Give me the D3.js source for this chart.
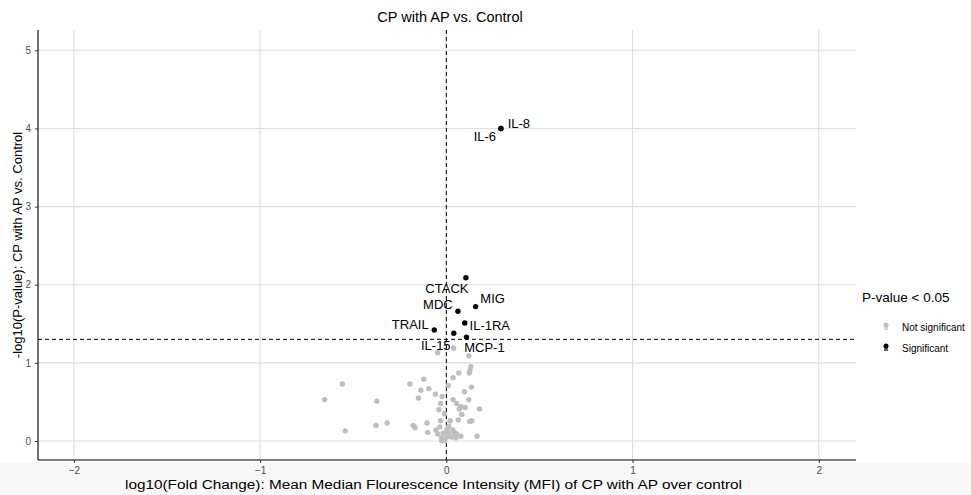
<!DOCTYPE html>
<html><head><meta charset="utf-8">
<script src="https://cdn.jsdelivr.net/npm/d3@7"></script>
<style>body{margin:0;background:#fff;}svg{display:block;font-family:"Liberation Sans",Arial,sans-serif;}</style>
</head><body><svg id="chart" width="971" height="495"></svg>
<script>
// ---- data ----
const title = "CP with AP vs. Control";
const xTicks = [-2, -1, 0, 1, 2];
const yTicks = [0, 1, 2, 3, 4, 5];
const sigNames = ["IL-8","IL-6","CTACK","MIG","MDC","IL-1RA","TRAIL","IL-15","MCP-1"];
const sigX =     [0.293, 0.293, 0.105, 0.157, 0.062, 0.099, -0.065, 0.040, 0.108];
const sigY =     [4.00, 4.00, 2.09, 1.72, 1.66, 1.51, 1.42, 1.38, 1.33];
const nsX = [-0.047,0.039,0.121,0.132,0.126,0.123,0.067,0.036,-0.559,-0.196,-0.121,0.010,0.135,-0.137,-0.094,-0.059,0.097,-0.654,-0.373,-0.150,-0.023,0.036,0.121,-0.031,0.055,-0.040,-0.010,0.069,0.078,0.101,0.178,0.083,0.064,0.021,-0.031,0.126,0.137,-0.104,-0.378,-0.318,-0.178,-0.168,-0.543,-0.100,-0.035,0.003,0.034,0.042,0.055,0.078,0.165,-0.017,-0.026,-0.008,0.028,0.013,-0.046,0.003,-0.024,0.051,-0.056,0.013];
const nsY = [1.13,1.19,1.09,0.95,0.90,0.87,0.87,0.81,0.73,0.73,0.79,0.71,0.69,0.65,0.67,0.60,0.63,0.53,0.51,0.55,0.57,0.53,0.53,0.48,0.48,0.40,0.35,0.41,0.44,0.43,0.41,0.34,0.27,0.26,0.26,0.25,0.26,0.23,0.20,0.23,0.20,0.17,0.13,0.11,0.18,0.15,0.14,0.11,0.09,0.06,0.06,0.10,0.04,0.01,0.05,0.10,0.09,0.05,0.00,0.04,0.14,0.19];
const pThreshold = -Math.log10(0.05);
const legendTitle = "P-value < 0.05";
const legendLabels = ["Not significant", "Significant"];
const xTitle = "log10(Fold Change): Mean Median Flourescence Intensity (MFI) of CP with AP over control";
const yTitle = "-log10(P-value): CP with AP vs. Control";

// ---- layout (label offsets in px, from ggrepel placement) ----
const labelOffset = {"IL-8":[18,-5],"IL-6":[-16,8],"CTACK":[-19,11],"MIG":[17,-8],"MDC":[-20,-7],"IL-1RA":[25,2],"TRAIL":[-24,-6],"IL-15":[-18,12],"MCP-1":[18,10]};
const colNS = "#bebebe", colS = "#000000";

const svg = d3.select("#chart");
const L = 38, R = 856, T = 30, B = 460;
const x = d3.scaleLinear().domain([-2.193, 2.2]).range([L, R]);
const y = d3.scaleLinear().domain([-0.243, 5.26]).range([B, T]);

// faint bottom strip (screenshot shading)
svg.append("rect").attr("x",0).attr("y",463).attr("width",971).attr("height",32).attr("fill","#f8f8f8");

// gridlines
const g = svg.append("g");
g.selectAll(".gx").data(xTicks).join("line")
  .attr("x1", d => x(d)).attr("x2", d => x(d)).attr("y1", T).attr("y2", B)
  .attr("stroke", "#dedede").attr("stroke-width", 1.1);
g.selectAll(".gy").data(yTicks).join("line")
  .attr("x1", L).attr("x2", R).attr("y1", d => y(d)).attr("y2", d => y(d))
  .attr("stroke", "#dedede").attr("stroke-width", 1.1);

// axes
const xAxis = svg.append("g").attr("transform", `translate(0,${B})`)
  .call(d3.axisBottom(x).tickValues(xTicks).tickSize(3).tickPadding(4).tickFormat(d3.format("d")));
const yAxis = svg.append("g").attr("transform", `translate(${L},0)`)
  .call(d3.axisLeft(y).tickValues(yTicks).tickSize(3).tickPadding(4).tickFormat(d3.format("d")));
[xAxis, yAxis].forEach(a => {
  a.select(".domain").attr("stroke", "#000").attr("stroke-width", 1.1);
  a.selectAll(".tick line").attr("stroke", "#333");
  a.selectAll(".tick text").attr("fill", "#4d4d4d").attr("font-size", 10).attr("font-family", "Liberation Sans, Arial, sans-serif");
});
xAxis.select(".domain").attr("d", `M${L},0H${R}`);
yAxis.select(".domain").attr("d", `M0,${T}V${B}`);

// reference lines
svg.append("line").attr("x1", x(0)).attr("x2", x(0)).attr("y1", T).attr("y2", B)
  .attr("stroke", "#000").attr("stroke-dasharray", "4,3").attr("stroke-width", 1);
svg.append("line").attr("x1", L).attr("x2", R).attr("y1", y(pThreshold)).attr("y2", y(pThreshold))
  .attr("stroke", "#000").attr("stroke-dasharray", "4,3").attr("stroke-width", 1);

// points
const ns = nsX.map((v, i) => ({x: v, y: nsY[i]}));
svg.append("g").selectAll("circle").data(ns).join("circle")
  .attr("cx", d => x(d.x)).attr("cy", d => y(d.y)).attr("r", 2.7).attr("fill", colNS);
const sig = sigNames.map((n, i) => ({name: n, x: sigX[i], y: sigY[i]}));
svg.append("g").selectAll("circle").data(sig).join("circle")
  .attr("cx", d => x(d.x)).attr("cy", d => y(d.y)).attr("r", 2.7).attr("fill", colS);

// labels
svg.append("g").selectAll("text").data(sig).join("text")
  .attr("x", d => x(d.x) + labelOffset[d.name][0])
  .attr("y", d => y(d.y) + labelOffset[d.name][1])
  .attr("text-anchor", "middle").attr("dominant-baseline", "central")
  .attr("font-size", 13).attr("fill", "#000").text(d => d.name);

// title
svg.append("text").attr("x", 450).attr("y", 22).attr("text-anchor", "middle")
  .attr("font-size", 14.5).attr("fill", "#000").text(title);

// axis titles
svg.append("text").attr("x", 125).attr("y", 489)
  .attr("font-size", 12.5).attr("fill", "#000")
  .attr("textLength", 617).attr("lengthAdjust", "spacingAndGlyphs")
  .text(xTitle);
svg.append("text").attr("transform", `translate(22,245) rotate(-90)`)
  .attr("text-anchor", "middle").attr("font-size", 13).attr("fill", "#000")
  .text(yTitle);

// legend
const lg = svg.append("g");
lg.append("text").attr("x", 862).attr("y", 302).attr("font-size", 13.5).attr("fill", "#000").text(legendTitle);
[colNS, colS].forEach((c, i) => {
  const cy = 327 + i * 21;
  lg.append("circle").attr("cx", 886).attr("cy", cy - 2).attr("r", 2.5).attr("fill", c);
  lg.append("text").attr("x", 886).attr("y", cy + 3).attr("text-anchor", "middle")
    .attr("font-size", 7).attr("fill", c).attr("font-weight", "bold").text("a");
  lg.append("text").attr("x", 902).attr("y", cy + 4).attr("font-size", 10).attr("fill", "#000").text(legendLabels[i]);
});
</script></body></html>
